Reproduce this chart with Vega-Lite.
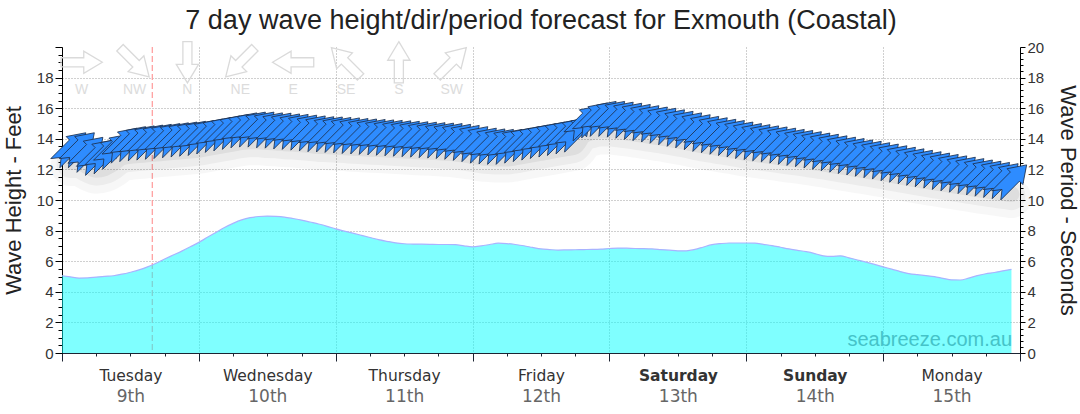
{
  "width": 958,
  "height": 306,
  "autosize": {"type": "none"},
  "padding": {"left": 62, "top": 47, "right": 60, "bottom": 61},
  "background": "white",
  "title": {"text": "7 day wave height/dir/period forecast for Exmouth (Coastal)", "font": "Liberation Sans", "fontSize": 27, "fontWeight": "normal", "color": "#222222", "offset": 4},
  "config": {"view": {"stroke": null}},
  "datasets": {
    "forecast": [
      {"t": "2024-07-09T00:00", "height": 5.05},
      {"t": "2024-07-09T01:30", "height": 4.97, "period": 13.4, "dir": 225},
      {"t": "2024-07-09T03:00", "height": 4.90, "period": 13.4, "dir": 225},
      {"t": "2024-07-09T04:30", "height": 4.91, "period": 13.1, "dir": 225},
      {"t": "2024-07-09T06:00", "height": 4.96, "period": 12.9, "dir": 225},
      {"t": "2024-07-09T07:30", "height": 5.01, "period": 13.0, "dir": 225},
      {"t": "2024-07-09T09:00", "height": 5.05, "period": 13.3, "dir": 225},
      {"t": "2024-07-09T10:30", "height": 5.15, "period": 13.7, "dir": 225},
      {"t": "2024-07-09T12:00", "height": 5.28, "period": 13.8, "dir": 225},
      {"t": "2024-07-09T13:30", "height": 5.43, "period": 13.85, "dir": 225},
      {"t": "2024-07-09T15:00", "height": 5.63, "period": 13.9, "dir": 225},
      {"t": "2024-07-09T16:30", "height": 5.87, "period": 13.95, "dir": 225},
      {"t": "2024-07-09T18:00", "height": 6.14, "period": 14.0, "dir": 225},
      {"t": "2024-07-09T19:30", "height": 6.40, "period": 14.05, "dir": 225},
      {"t": "2024-07-09T21:00", "height": 6.66, "period": 14.1, "dir": 225},
      {"t": "2024-07-09T22:30", "height": 6.94, "period": 14.15, "dir": 225},
      {"t": "2024-07-10T00:00", "height": 7.23, "period": 14.2, "dir": 225},
      {"t": "2024-07-10T01:30", "height": 7.56, "period": 14.3, "dir": 225},
      {"t": "2024-07-10T03:00", "height": 7.88, "period": 14.4, "dir": 225},
      {"t": "2024-07-10T04:30", "height": 8.20, "period": 14.5, "dir": 225},
      {"t": "2024-07-10T06:00", "height": 8.47, "period": 14.6, "dir": 225},
      {"t": "2024-07-10T07:30", "height": 8.70, "period": 14.7, "dir": 225},
      {"t": "2024-07-10T09:00", "height": 8.85, "period": 14.75, "dir": 225},
      {"t": "2024-07-10T10:30", "height": 8.92, "period": 14.75, "dir": 225},
      {"t": "2024-07-10T12:00", "height": 8.95, "period": 14.7, "dir": 225},
      {"t": "2024-07-10T13:30", "height": 8.93, "period": 14.68, "dir": 225},
      {"t": "2024-07-10T15:00", "height": 8.88, "period": 14.63, "dir": 225},
      {"t": "2024-07-10T16:30", "height": 8.79, "period": 14.6, "dir": 225},
      {"t": "2024-07-10T18:00", "height": 8.69, "period": 14.55, "dir": 225},
      {"t": "2024-07-10T19:30", "height": 8.56, "period": 14.5, "dir": 225},
      {"t": "2024-07-10T21:00", "height": 8.43, "period": 14.45, "dir": 225},
      {"t": "2024-07-10T22:30", "height": 8.28, "period": 14.43, "dir": 225},
      {"t": "2024-07-11T00:00", "height": 8.11, "period": 14.4, "dir": 225},
      {"t": "2024-07-11T01:30", "height": 7.97, "period": 14.37, "dir": 225},
      {"t": "2024-07-11T03:00", "height": 7.83, "period": 14.33, "dir": 225},
      {"t": "2024-07-11T04:30", "height": 7.69, "period": 14.3, "dir": 225},
      {"t": "2024-07-11T06:00", "height": 7.55, "period": 14.27, "dir": 225},
      {"t": "2024-07-11T07:30", "height": 7.41, "period": 14.24, "dir": 225},
      {"t": "2024-07-11T09:00", "height": 7.30, "period": 14.21, "dir": 225},
      {"t": "2024-07-11T10:30", "height": 7.20, "period": 14.18, "dir": 225},
      {"t": "2024-07-11T12:00", "height": 7.14, "period": 14.15, "dir": 225},
      {"t": "2024-07-11T13:30", "height": 7.12, "period": 14.12, "dir": 225},
      {"t": "2024-07-11T15:00", "height": 7.11, "period": 14.09, "dir": 225},
      {"t": "2024-07-11T16:30", "height": 7.10, "period": 14.06, "dir": 225},
      {"t": "2024-07-11T18:00", "height": 7.09, "period": 14.03, "dir": 225},
      {"t": "2024-07-11T19:30", "height": 7.09, "period": 14.0, "dir": 225},
      {"t": "2024-07-11T21:00", "height": 7.08, "period": 13.95, "dir": 225},
      {"t": "2024-07-11T22:30", "height": 7.00, "period": 13.88, "dir": 225},
      {"t": "2024-07-12T00:00", "height": 6.94, "period": 13.8, "dir": 225},
      {"t": "2024-07-12T01:30", "height": 7.00, "period": 13.7, "dir": 225},
      {"t": "2024-07-12T03:00", "height": 7.09, "period": 13.65, "dir": 225},
      {"t": "2024-07-12T04:30", "height": 7.18, "period": 13.62, "dir": 225},
      {"t": "2024-07-12T06:00", "height": 7.15, "period": 13.62, "dir": 225},
      {"t": "2024-07-12T07:30", "height": 7.09, "period": 13.7, "dir": 225},
      {"t": "2024-07-12T09:00", "height": 7.01, "period": 13.8, "dir": 225},
      {"t": "2024-07-12T10:30", "height": 6.90, "period": 13.9, "dir": 225},
      {"t": "2024-07-12T12:00", "height": 6.80, "period": 14.0, "dir": 225},
      {"t": "2024-07-12T13:30", "height": 6.76, "period": 14.1, "dir": 225},
      {"t": "2024-07-12T15:00", "height": 6.73, "period": 14.2, "dir": 225},
      {"t": "2024-07-12T16:30", "height": 6.74, "period": 14.3, "dir": 225},
      {"t": "2024-07-12T18:00", "height": 6.75, "period": 14.42, "dir": 225},
      {"t": "2024-07-12T19:30", "height": 6.76, "period": 15.15, "dir": 225},
      {"t": "2024-07-12T21:00", "height": 6.77, "period": 15.35, "dir": 225},
      {"t": "2024-07-12T22:30", "height": 6.79, "period": 15.45, "dir": 225},
      {"t": "2024-07-13T00:00", "height": 6.83, "period": 15.45, "dir": 225},
      {"t": "2024-07-13T01:30", "height": 6.86, "period": 15.4, "dir": 225},
      {"t": "2024-07-13T03:00", "height": 6.85, "period": 15.33, "dir": 225},
      {"t": "2024-07-13T04:30", "height": 6.83, "period": 15.25, "dir": 225},
      {"t": "2024-07-13T06:00", "height": 6.82, "period": 15.17, "dir": 225},
      {"t": "2024-07-13T07:30", "height": 6.80, "period": 15.08, "dir": 225},
      {"t": "2024-07-13T09:00", "height": 6.76, "period": 15.0, "dir": 225},
      {"t": "2024-07-13T10:30", "height": 6.72, "period": 14.9, "dir": 225},
      {"t": "2024-07-13T12:00", "height": 6.68, "period": 14.8, "dir": 225},
      {"t": "2024-07-13T13:30", "height": 6.68, "period": 14.7, "dir": 225},
      {"t": "2024-07-13T15:00", "height": 6.77, "period": 14.58, "dir": 225},
      {"t": "2024-07-13T16:30", "height": 6.93, "period": 14.47, "dir": 225},
      {"t": "2024-07-13T18:00", "height": 7.08, "period": 14.38, "dir": 225},
      {"t": "2024-07-13T19:30", "height": 7.15, "period": 14.28, "dir": 225},
      {"t": "2024-07-13T21:00", "height": 7.19, "period": 14.2, "dir": 225},
      {"t": "2024-07-13T22:30", "height": 7.19, "period": 14.1, "dir": 225},
      {"t": "2024-07-14T00:00", "height": 7.19, "period": 14.0, "dir": 225},
      {"t": "2024-07-14T01:30", "height": 7.18, "period": 13.93, "dir": 225},
      {"t": "2024-07-14T03:00", "height": 7.10, "period": 13.85, "dir": 225},
      {"t": "2024-07-14T04:30", "height": 7.02, "period": 13.78, "dir": 225},
      {"t": "2024-07-14T06:00", "height": 6.91, "period": 13.7, "dir": 225},
      {"t": "2024-07-14T07:30", "height": 6.80, "period": 13.62, "dir": 225},
      {"t": "2024-07-14T09:00", "height": 6.71, "period": 13.55, "dir": 225},
      {"t": "2024-07-14T10:30", "height": 6.62, "period": 13.47, "dir": 225},
      {"t": "2024-07-14T12:00", "height": 6.50, "period": 13.38, "dir": 225},
      {"t": "2024-07-14T13:30", "height": 6.35, "period": 13.3, "dir": 225},
      {"t": "2024-07-14T15:00", "height": 6.31, "period": 13.2, "dir": 225},
      {"t": "2024-07-14T16:30", "height": 6.35, "period": 13.11, "dir": 225},
      {"t": "2024-07-14T18:00", "height": 6.22, "period": 13.02, "dir": 225},
      {"t": "2024-07-14T19:30", "height": 6.08, "period": 12.93, "dir": 225},
      {"t": "2024-07-14T21:00", "height": 5.94, "period": 12.84, "dir": 225},
      {"t": "2024-07-14T22:30", "height": 5.79, "period": 12.75, "dir": 225},
      {"t": "2024-07-15T00:00", "height": 5.63, "period": 12.66, "dir": 225},
      {"t": "2024-07-15T01:30", "height": 5.48, "period": 12.55, "dir": 225},
      {"t": "2024-07-15T03:00", "height": 5.32, "period": 12.45, "dir": 225},
      {"t": "2024-07-15T04:30", "height": 5.19, "period": 12.35, "dir": 225},
      {"t": "2024-07-15T06:00", "height": 5.12, "period": 12.25, "dir": 225},
      {"t": "2024-07-15T07:30", "height": 5.06, "period": 12.16, "dir": 225},
      {"t": "2024-07-15T09:00", "height": 4.99, "period": 12.07, "dir": 225},
      {"t": "2024-07-15T10:30", "height": 4.88, "period": 11.98, "dir": 225},
      {"t": "2024-07-15T12:00", "height": 4.78, "period": 11.89, "dir": 225},
      {"t": "2024-07-15T13:30", "height": 4.77, "period": 11.8, "dir": 225},
      {"t": "2024-07-15T15:00", "height": 4.89, "period": 11.71, "dir": 225},
      {"t": "2024-07-15T16:30", "height": 5.06, "period": 11.62, "dir": 225},
      {"t": "2024-07-15T18:00", "height": 5.18, "period": 11.54, "dir": 225},
      {"t": "2024-07-15T19:30", "height": 5.26, "period": 11.46, "dir": 225},
      {"t": "2024-07-15T21:00", "height": 5.37, "period": 11.38, "dir": 225},
      {"t": "2024-07-15T22:30", "height": 5.47, "period": 11.3, "dir": 225}
    ],
    "compass": [
      {"label": "W", "dir": 270},
      {"label": "NW", "dir": 315},
      {"label": "N", "dir": 0},
      {"label": "NE", "dir": 45},
      {"label": "E", "dir": 90},
      {"label": "SE", "dir": 135},
      {"label": "S", "dir": 180},
      {"label": "SW", "dir": 225}
    ]
  },
  "layer": [
    {
      "data": {"values": [{"now": "2024-07-09T15:50"}]},
      "mark": {"type": "rule", "color": "#ff9999", "strokeDash": [6, 3], "strokeWidth": 1.2},
      "encoding": {
        "x": {"field": "now", "type": "temporal", "scale": {"domain": [{"year": 2024, "month": 7, "date": 9}, {"year": 2024, "month": 7, "date": 16}], "nice": false},
          "axis": {"orient": "bottom", "tickCount": 7, "title": null, "grid": false, "domain": false, "labels": false, "ticks": true, "tickSize": 8, "tickColor": "#1c2433"}
        }
      }
    },
    {
      "data": {"name": "forecast"},
      "mark": {"type": "area", "interpolate": "monotone", "fill": "#00ffff", "fillOpacity": 0.5, "line": {"color": "#a9b3ff", "strokeWidth": 1.2, "interpolate": "monotone"}},
      "encoding": {
        "x": {"field": "t", "type": "temporal", "scale": {"domain": [{"year": 2024, "month": 7, "date": 9}, {"year": 2024, "month": 7, "date": 16}], "nice": false},
          "axis": {
            "orient": "bottom",
            "tickCount": 28,
            "title": null,
            "grid": true,
            "gridColor": "#a0a0a0",
            "gridDash": [1, 2],
            "gridOpacity": {"condition": {"test": "hours(datum.value) === 0", "value": 1}, "value": 0},
            "domainColor": "#1c2433",
            "tickColor": "#1c2433",
            "tickSize": 3,
            "labelExpr": "hours(datum.value) === 12 ? timeFormat(datum.value, '%A') : ''",
            "labelFont": "DejaVu Sans",
            "labelFontSize": 15.5,
            "labelColor": "#333333",
            "labelFontWeight": {"condition": {"test": "day(datum.value) === 0 || day(datum.value) === 6", "value": "bold"}, "value": "normal"},
            "labelPadding": 12,
            "labelOverlap": false,
            "labelFlush": false,
            "labelBound": false
          }
        },
        "y": {"field": "height", "type": "quantitative", "scale": {"domain": [0, 20], "nice": false},
          "axis": {
            "orient": "left",
            "values": [0,2,4,6,8,10,12,14,16,18,20],
            "title": "Wave Height - Feet",
            "grid": true,
            "gridColor": "#a0a0a0",
            "gridDash": [1, 2],
            "gridOpacity": {"condition": {"test": "datum.value > 0 && datum.value < 20", "value": 1}, "value": 0},
            "domainColor": "#000000",
            "tickColor": "#000000",
            "tickSize": 7,
            "labelExpr": "datum.value < 20 ? '' + datum.value : ''",
            "labelFont": "Liberation Sans",
            "labelFontSize": 15,
            "labelColor": "#333333",
            "labelPadding": 2,
            "labelOverlap": false,
            "labelFlush": false,
            "titleFont": "Liberation Sans",
            "titleFontSize": 22,
            "titleFontWeight": "normal",
            "titleColor": "#222222",
            "titlePadding": 11
          }
        }
      }
    },
    {
      "data": {"name": "forecast"},
      "mark": {"type": "line", "interpolate": "monotone", "color": "#000000", "opacity": 0.03, "strokeWidth": 40, "yOffset": 18, "strokeCap": "round"},
      "encoding": {
        "x": {"field": "t", "type": "temporal", "scale": {"domain": [{"year": 2024, "month": 7, "date": 9}, {"year": 2024, "month": 7, "date": 16}], "nice": false},
          "axis": {
            "orient": "bottom",
            "tickCount": 28,
            "title": null,
            "grid": false,
            "domain": false,
            "ticks": false,
            "tickSize": 0,
            "labelExpr": "hours(datum.value) === 12 ? date(datum.value) + 'th' : ''",
            "labelFont": "DejaVu Sans",
            "labelFontSize": 17,
            "labelColor": "#666666",
            "labelPadding": 35,
            "labelOverlap": false,
            "labelFlush": false,
            "labelBound": false
          }
        },
        "y": {"field": "period", "type": "quantitative", "scale": {"domain": [0, 20], "nice": false},
          "axis": {"orient": "left", "values": [0.5,1,1.5,2.5,3,3.5,4.5,5,5.5,6.5,7,7.5,8.5,9,9.5,10.5,11,11.5,12.5,13,13.5,14.5,15,15.5,16.5,17,17.5,18.5,19,19.5], "title": null, "grid": false, "domain": false, "labels": false, "tickSize": 4, "tickColor": "#000000"}
        }
      }
    },
    {
      "data": {"name": "forecast"},
      "mark": {"type": "line", "interpolate": "monotone", "color": "#000000", "opacity": 0.045, "strokeWidth": 28, "yOffset": 16, "strokeCap": "round"},
      "encoding": {
        "x": {"field": "t", "type": "temporal", "scale": {"domain": [{"year": 2024, "month": 7, "date": 9}, {"year": 2024, "month": 7, "date": 16}], "nice": false}, "axis": null},
        "y": {"field": "period", "type": "quantitative", "scale": {"domain": [0, 20], "nice": false},
          "axis": {"orient": "right", "values": [0.4,0.8,1.2,1.6,2.4,2.8,3.2,3.6,4.4,4.8,5.2,5.6,6.4,6.8,7.2,7.6,8.4,8.8,9.2,9.6,10.4,10.8,11.2,11.6,12.4,12.8,13.2,13.6,14.4,14.8,15.2,15.6,16.4,16.8,17.2,17.6,18.4,18.8,19.2,19.6], "title": null, "grid": false, "domain": false, "labels": false, "tickSize": 3, "tickColor": "#000000"}
        }
      }
    },
    {
      "data": {"name": "forecast"},
      "mark": {"type": "line", "interpolate": "monotone", "color": "#000000", "opacity": 0.06, "strokeWidth": 16, "yOffset": 14, "strokeCap": "round"},
      "encoding": {
        "x": {"field": "t", "type": "temporal", "scale": {"domain": [{"year": 2024, "month": 7, "date": 9}, {"year": 2024, "month": 7, "date": 16}], "nice": false}, "axis": null},
        "y": {"field": "period", "type": "quantitative", "scale": {"domain": [0, 20], "nice": false}, "axis": null}
      }
    },
    {
      "data": {"name": "forecast"},
      "mark": {"type": "point", "shape": "M0,-1L0.52,-0.23L0.3,-0.23L0.3,1L0,0.62L-0.3,1L-0.3,-0.23L-0.52,-0.23Z", "size": 1850, "filled": true, "fill": "#2e8cff", "stroke": "#1c2f4d", "strokeWidth": 0.8, "opacity": 1},
      "encoding": {
        "x": {"field": "t", "type": "temporal", "scale": {"domain": [{"year": 2024, "month": 7, "date": 9}, {"year": 2024, "month": 7, "date": 16}], "nice": false}, "axis": null},
        "y": {"field": "period", "type": "quantitative", "scale": {"domain": [0, 20], "nice": false},
          "axis": {
            "orient": "right",
            "values": [0,2,4,6,8,10,12,14,16,18,20],
            "title": "Wave Period - Seconds",
            "grid": false,
            "domainColor": "#000000",
            "tickColor": "#000000",
            "tickSize": 5,
            "labelFont": "Liberation Sans",
            "labelFontSize": 15,
            "labelColor": "#333333",
            "labelPadding": 2,
            "labelOverlap": false,
            "labelFlush": false,
            "titleFont": "Liberation Sans",
            "titleFontSize": 22,
            "titleFontWeight": "normal",
            "titleColor": "#222222",
            "titlePadding": 12
          }
        },
        "angle": {"field": "dir", "type": "quantitative", "scale": {"domain": [0, 360], "range": [180, 540]}, "legend": null}
      }
    },
    {
      "data": {"name": "compass"},
      "mark": {"type": "point", "shape": "M0,-1L0.54,-0.1L0.22,-0.1L0.22,1L-0.22,1L-0.22,-0.1L-0.54,-0.1Z", "size": 1700, "filled": false, "stroke": "#dadada", "strokeWidth": 1.3, "opacity": 1},
      "encoding": {
        "x": {"field": "label", "type": "nominal", "sort": null, "scale": {"type": "point", "range": [19.7, 389.7], "padding": 0}, "axis": null},
        "y": {"datum": 19.0, "type": "quantitative", "scale": {"domain": [0, 20], "nice": false}, "axis": null},
        "angle": {"field": "dir", "type": "quantitative", "scale": {"domain": [0, 360], "range": [180, 540]}, "legend": null}
      }
    },
    {
      "data": {"name": "compass"},
      "mark": {"type": "text", "font": "Liberation Sans", "fontSize": 14, "color": "#dcdcdc", "align": "center", "baseline": "middle"},
      "encoding": {
        "x": {"field": "label", "type": "nominal", "sort": null, "scale": {"type": "point", "range": [19.7, 389.7], "padding": 0}, "axis": null},
        "y": {"datum": 17.2, "type": "quantitative", "scale": {"domain": [0, 20], "nice": false}, "axis": null},
        "text": {"field": "label"}
      }
    },
    {
      "data": {"values": [{"site": "seabreeze.com.au"}]},
      "mark": {"type": "text", "font": "Liberation Sans", "fontSize": 20, "color": "#45c3c8", "align": "right", "baseline": "middle"},
      "encoding": {
        "x": {"datum": {"year": 2024, "month": 7, "date": 15, "hours": 22, "minutes": 36}, "type": "temporal", "scale": {"domain": [{"year": 2024, "month": 7, "date": 9}, {"year": 2024, "month": 7, "date": 16}], "nice": false}, "axis": null},
        "y": {"datum": 0.87, "type": "quantitative", "scale": {"domain": [0, 20], "nice": false}, "axis": null},
        "text": {"field": "site"}
      }
    }
  ],
  "resolve": {"scale": {"x": "independent", "y": "independent"}, "axis": {"x": "independent", "y": "independent"}}
}
